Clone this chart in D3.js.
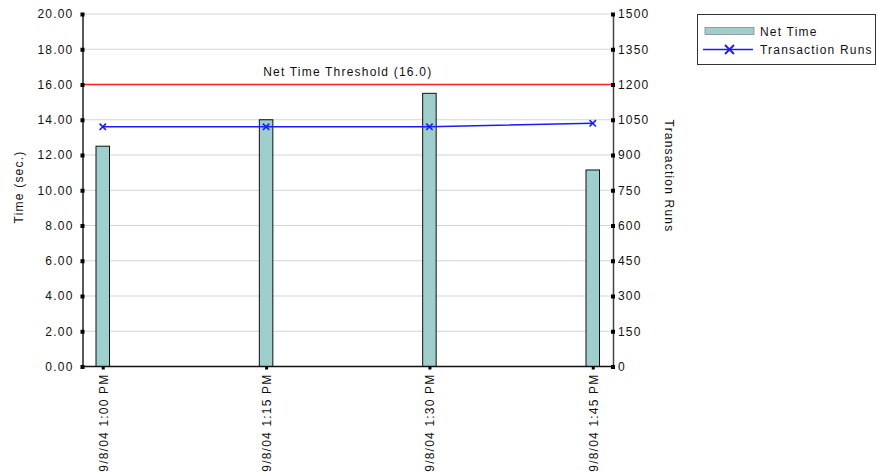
<!DOCTYPE html>
<html>
<head>
<meta charset="utf-8">
<script src="https://cdn.jsdelivr.net/npm/d3@7"></script>
<style>
  html, body { margin: 0; padding: 0; background: #fff; }
  svg text { font-family: "Liberation Sans", Arial, sans-serif; font-size: 12px; letter-spacing: 1.2px; fill: #111; }
</style>
</head>
<body>
<svg id="chart" width="878" height="472"></svg>
<script>
// Sample times on the x axis
const categories = ["9/8/04 1:00 PM", "9/8/04 1:15 PM", "9/8/04 1:30 PM", "9/8/04 1:45 PM"];
// Net time per sample, seconds (left axis)
const netTime = [12.5, 14.0, 15.5, 11.15];
// Transaction runs per sample (right axis)
const transactionRuns = [1020, 1020, 1020, 1035];
// Threshold for net time
const threshold = 16.0;
// Axis ticks
const timeTicks = [0, 2, 4, 6, 8, 10, 12, 14, 16, 18, 20];
const runTicks = [0, 150, 300, 450, 600, 750, 900, 1050, 1200, 1350, 1500];

const svg = d3.select("#chart");
const plot = { left: 82.5, right: 613, top: 14, bottom: 366.5 };

const x = d3.scalePoint().domain(categories).range([plot.left, plot.right]).padding(0.124);
const yTime = d3.scaleLinear().domain([0, 20]).range([plot.bottom, plot.top]);
const yRuns = d3.scaleLinear().domain([0, 1500]).range([plot.bottom, plot.top]);

const barWidth = 13.5;
const barFill = "#9ecfcc";
const lineColor = "#1a1aff";

// Horizontal grid lines
svg.append("g").selectAll("line").data(timeTicks.slice(1)).join("line")
  .attr("x1", plot.left).attr("x2", plot.right)
  .attr("y1", d => yTime(d)).attr("y2", d => yTime(d))
  .attr("stroke", "#d4d4d4").attr("stroke-width", 1);

// Threshold line and its caption
svg.append("line")
  .attr("x1", plot.left).attr("x2", plot.right)
  .attr("y1", yTime(threshold)).attr("y2", yTime(threshold))
  .attr("stroke", "#ff2020").attr("stroke-width", 1.5);
svg.append("text")
  .attr("x", (plot.left + plot.right) / 2).attr("y", yTime(threshold) - 9)
  .attr("text-anchor", "middle")
  .text(`Net Time Threshold (${threshold.toFixed(1)})`);

// Bars
svg.append("g").selectAll("rect").data(categories).join("rect")
  .attr("x", d => x(d) - barWidth / 2)
  .attr("width", barWidth)
  .attr("y", (d, i) => yTime(netTime[i]))
  .attr("height", (d, i) => yTime(0) - yTime(netTime[i]))
  .attr("fill", barFill).attr("stroke", "#111").attr("stroke-width", 1);

// Transaction runs line with X markers
const line = d3.line().x((d, i) => x(categories[i])).y(d => yRuns(d));
svg.append("path").datum(transactionRuns)
  .attr("d", line).attr("fill", "none")
  .attr("stroke", lineColor).attr("stroke-width", 1.5);
const xMark = (cx, cy, s) => `M${cx - s},${cy - s}L${cx + s},${cy + s}M${cx - s},${cy + s}L${cx + s},${cy - s}`;
svg.append("g").selectAll("path").data(transactionRuns).join("path")
  .attr("d", (d, i) => xMark(x(categories[i]), yRuns(d), 3.2))
  .attr("stroke", lineColor).attr("stroke-width", 1.6).attr("fill", "none");

// Axes
const leftAxis = d3.axisLeft(yTime).tickValues(timeTicks).tickFormat(d3.format(".2f")).tickSize(0).tickPadding(9);
const gl = svg.append("g").attr("transform", `translate(${plot.left},0)`).call(leftAxis);
gl.select(".domain").attr("stroke", "#222").attr("stroke-width", 1.5);

const rightAxis = d3.axisRight(yRuns).tickValues(runTicks).tickFormat(d3.format("d")).tickSize(0).tickPadding(5);
const gr = svg.append("g").attr("transform", `translate(${plot.right},0)`).call(rightAxis);
gr.select(".domain").attr("stroke", "#444").attr("stroke-width", 1.5);

[gl, gr].forEach(g => {
  g.selectAll("text").attr("font-family", null).attr("font-size", null).attr("fill", "#111");
  g.selectAll(".tick").append("rect")
    .attr("x", -2).attr("y", -2).attr("width", 4).attr("height", 4).attr("fill", "#000");
});

// Bottom axis
const bottomAxis = d3.axisBottom(x).tickSize(0).tickPadding(0);
const gb = svg.append("g").attr("transform", `translate(0,${plot.bottom})`).call(bottomAxis);
gb.select(".domain").attr("d", `M${plot.left},0H${plot.right}`).attr("stroke", "#111").attr("stroke-width", 1.5);
gb.selectAll(".tick").append("rect")
  .attr("x", -1.5).attr("y", 0).attr("width", 3).attr("height", 3).attr("fill", "#000");
gb.selectAll(".tick text")
  .attr("font-family", null).attr("font-size", null).attr("fill", "#111")
  .attr("text-anchor", "end").attr("dy", null).attr("y", null)
  .attr("transform", "translate(4.5,7) rotate(-90)");

// Axis titles
svg.append("text").attr("transform", "translate(23,187) rotate(-90)")
  .attr("text-anchor", "middle").text("Time (sec.)");
svg.append("text").attr("transform", "translate(665,176) rotate(90)")
  .attr("text-anchor", "middle").text("Transaction Runs");

// Legend
const lg = svg.append("g");
lg.append("rect").attr("x", 697.5).attr("y", 14.5).attr("width", 178).attr("height", 50)
  .attr("fill", "#fff").attr("stroke", "#333").attr("stroke-width", 1);
lg.append("rect").attr("x", 705).attr("y", 27.5).attr("width", 49).attr("height", 7)
  .attr("fill", barFill).attr("stroke", "#888").attr("stroke-width", 0.8);
lg.append("text").attr("x", 760).attr("y", 36).text("Net Time");
lg.append("line").attr("x1", 703).attr("x2", 753).attr("y1", 49.5).attr("y2", 49.5)
  .attr("stroke", lineColor).attr("stroke-width", 1.5);
lg.append("path").attr("d", xMark(729.5, 49.5, 4.5)).attr("stroke", lineColor)
  .attr("stroke-width", 1.8).attr("fill", "none");
lg.append("text").attr("x", 760).attr("y", 54).text("Transaction Runs");
</script>
</body>
</html>
